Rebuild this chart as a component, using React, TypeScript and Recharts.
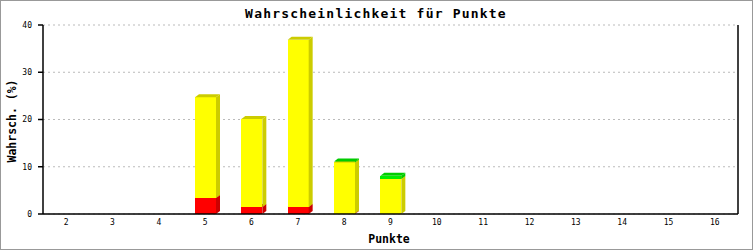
import React from 'react';
import { BarChart, Bar, XAxis, YAxis, CartesianGrid } from 'recharts';

const categories = ['2', '3', '4', '5', '6', '7', '8', '9', '10', '11', '12', '13', '14', '15', '16'];
const redValues = [0, 0, 0, 3.4, 1.5, 1.5, 0.1, 0, 0, 0, 0, 0, 0, 0, 0];
const yellowValues = [0, 0, 0, 21.3, 18.6, 35.4, 10.8, 7.4, 0, 0, 0, 0, 0, 0, 0];
const greenValues = [0, 0, 0, 0, 0, 0, 0.2, 0.7, 0, 0, 0, 0, 0, 0, 0];
const yTicks = [0, 10, 20, 30, 40];

const data = categories.map((c, i) => ({
  name: c,
  red: redValues[i],
  yellow: yellowValues[i],
  green: greenValues[i],
}));

const FONT = '"DejaVu Sans Mono", "Liberation Mono", monospace';

const make3D = (front: string, dark: string) => (props: any) => {
  const { x, y, width, height } = props;
  if (!height || height <= 0 || !width) return null;
  const d = 4;
  const e = 3;
  return (
    <g>
      <rect x={x} y={y} width={width} height={height} fill={front} shapeRendering="crispEdges" />
      <polygon
        points={`${x + width},${y} ${x + width + d},${y - e} ${x + width + d},${y + height - e} ${x + width},${y + height}`}
        fill={dark}
      />
      <polygon
        points={`${x},${y} ${x + d},${y - e} ${x + width + d},${y - e} ${x + width},${y}`}
        fill={dark}
      />
    </g>
  );
};

const RedShape = make3D('#ff0000', '#cc0000');
const YellowShape = make3D('#ffff00', '#cccc00');
const GreenShape = make3D('#00ee00', '#00cc00');

export default function App() {
  return (
    <div style={{ position: 'absolute', left: 0, top: 0, width: 753, height: 250, background: '#fff' }}>
      <BarChart
        width={753}
        height={250}
        data={data}
        margin={{ top: 25, right: 0, bottom: 0, left: 0 }}
        barSize={21}
      >
        <CartesianGrid vertical={false} stroke="#bbbbbb" strokeDasharray="2 3" />
        <XAxis
          dataKey="name"
          height={36}
          tickLine={false}
          tickSize={0}
          tickMargin={5}
          axisLine={{ stroke: '#000', strokeWidth: 1.5 }}
          tick={{ fontSize: 8, fontFamily: FONT, fill: '#000' }}
          interval={0}
        />
        <YAxis
          width={43}
          domain={[0, 40]}
          ticks={yTicks}
          tickSize={5}
          tickMargin={6}
          axisLine={{ stroke: '#000', strokeWidth: 1.5 }}
          tickLine={{ stroke: '#000', strokeWidth: 1.5 }}
          tick={{ fontSize: 8, fontFamily: FONT, fill: '#000' }}
        />
        <YAxis
          yAxisId="right"
          orientation="right"
          width={15}
          domain={[0, 40]}
          tick={false}
          tickLine={false}
          axisLine={{ stroke: '#000', strokeWidth: 1.5 }}
        />
        <Bar dataKey="red" stackId="a" fill="#ff0000" shape={RedShape} isAnimationActive={false} />
        <Bar dataKey="yellow" stackId="a" fill="#ffff00" shape={YellowShape} isAnimationActive={false} />
        <Bar dataKey="green" stackId="a" fill="#00ee00" shape={GreenShape} isAnimationActive={false} />
      </BarChart>
      <svg
        width={753}
        height={250}
        style={{ position: 'absolute', left: 0, top: 0, pointerEvents: 'none' }}
      >
        <rect x={0.5} y={0.5} width={752} height={249} fill="none" stroke="#999" strokeWidth={1} />
        <text
          x={376}
          y={18}
          textAnchor="middle"
          fontFamily={FONT}
          fontWeight="bold"
          fontSize={13}
          letterSpacing={1.2}
          fill="#000"
        >
          Wahrscheinlichkeit für Punkte
        </text>
        <text
          x={16}
          y={121}
          textAnchor="middle"
          fontFamily={FONT}
          fontWeight="bold"
          fontSize={11.5}
          fill="#000"
          transform="rotate(-90 16 121)"
        >
          Wahrsch. (%)
        </text>
        <text x={389} y={243} textAnchor="middle" fontFamily={FONT} fontWeight="bold" fontSize={11.5} fill="#000">
          Punkte
        </text>
      </svg>
    </div>
  );
}
